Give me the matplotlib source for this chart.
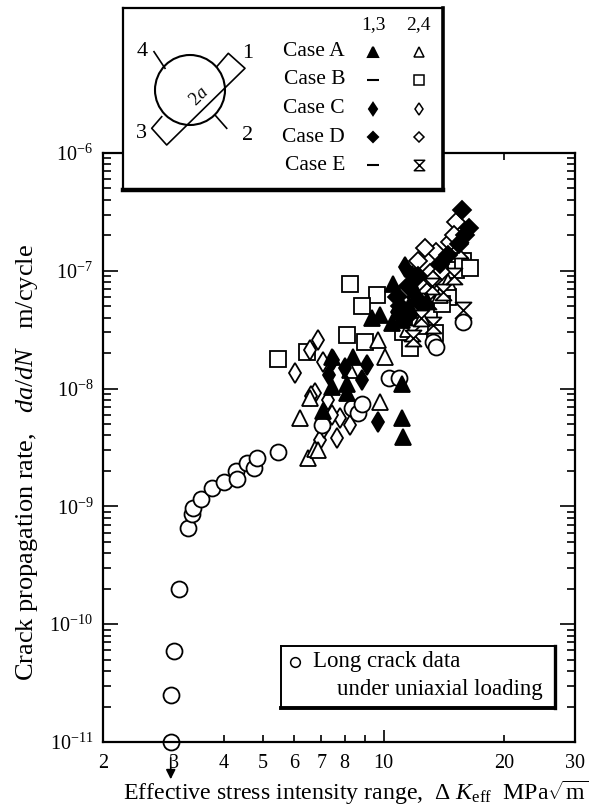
import matplotlib
matplotlib.use('Agg')
import matplotlib.pyplot as plt
from matplotlib.path import Path
from matplotlib.patches import Circle

plt.rcParams['font.family'] = ['Liberation Serif', 'DejaVu Serif']
plt.rcParams['mathtext.fontset'] = 'custom'
plt.rcParams['mathtext.rm'] = 'Liberation Serif'
plt.rcParams['mathtext.it'] = 'Liberation Serif:italic'

# Long crack data (open circles)
long_x = [2.95, 2.95, 3.0, 3.09, 3.25, 3.33, 3.36, 3.51, 3.73, 4.01, 4.28, 4.31, 4.56, 4.76,
          4.83, 5.45, 7.02, 8.34, 8.65, 8.83, 10.3, 10.9, 13.3, 13.5, 15.8]
long_y = [1.0e-11, 2.5e-11, 5.9e-11, 2.0e-10, 6.6e-10, 8.6e-10, 9.6e-10, 1.16e-9, 1.43e-9,
          1.62e-9, 2.0e-9, 1.7e-9, 2.35e-9, 2.1e-9, 2.6e-9, 2.9e-9, 4.9e-9, 6.8e-9, 6.2e-9,
          7.4e-9, 1.22e-8, 1.22e-8, 2.5e-8, 2.25e-8, 3.7e-8]

# Case A (triangles)
a13_x = [7.43, 8.41, 7.43, 8.10, 7.08, 8.10, 11.1, 11.2, 11.1, 9.35, 9.8, 10.55, 12.0, 10.5,
         11.1, 11.6, 12.8]
a13_y = [1.87e-8, 1.87e-8, 1.04e-8, 9.1e-9, 6.4e-9, 1.1e-8, 5.6e-9, 3.9e-9, 1.1e-8, 3.95e-8,
         4.2e-8, 7.8e-8, 6.9e-8, 3.6e-8, 3.8e-8, 5.0e-8, 5.5e-8]
a24_x = [6.19, 6.5, 6.75, 6.88, 9.8, 10.09, 9.7, 8.26, 13.8, 12.5, 14.5, 11.5, 6.55]
a24_y = [5.6e-9, 2.56e-9, 3.1e-9, 3.0e-9, 7.7e-9, 1.87e-8, 2.59e-8, 1.44e-8, 6.2e-8, 4.0e-8,
         8.0e-8, 3.2e-8, 8.3e-9]

# Case B (squares)
b24_x = [8.26, 9.62, 8.83, 8.10, 9.0, 5.47, 6.44, 11.64, 13.43, 14.5, 15.2, 15.8, 16.4, 13.0,
         12.3, 14.0, 11.2]
b24_y = [7.8e-8, 6.2e-8, 5.0e-8, 2.85e-8, 2.5e-8, 1.78e-8, 2.06e-8, 2.2e-8, 2.95e-8, 6.0e-8,
         1.02e-7, 1.2e-7, 1.05e-7, 4.3e-8, 3.4e-8, 5.2e-8, 3.0e-8]

# Case C (thin diamonds)
c13_x = [8.83, 9.7, 11.3, 7.5, 8.0, 9.1, 7.3, 10.8, 11.8]
c13_y = [1.18e-8, 5.2e-9, 1.07e-7, 1.75e-8, 1.5e-8, 1.6e-8, 1.3e-8, 4.5e-8, 9.0e-8]
c24_x = [6.88, 6.56, 6.01, 7.08, 6.75, 6.6, 7.28, 7.8, 8.26, 6.95, 7.64, 7.45, 7.1]
c24_y = [2.59e-8, 2.13e-8, 1.35e-8, 1.69e-8, 9.1e-9, 8.6e-9, 8.0e-9, 5.6e-9, 4.9e-9, 3.66e-9,
         3.8e-9, 6.0e-9, 4.6e-9]

# Case D (diamonds)
d13_x = [15.7, 16.3, 16.0, 15.4, 14.5, 13.8, 12.2, 10.8, 11.5, 11.0, 12.2, 11.6]
d13_y = [3.3e-7, 2.3e-7, 2.0e-7, 1.7e-7, 1.35e-7, 1.15e-7, 9.0e-8, 6.0e-8, 7.5e-8, 5.0e-8,
         5.5e-8, 4.2e-8]
d24_x = [15.2, 14.65, 13.55, 12.7, 12.2, 13.06, 11.97, 12.8, 15.0, 14.0, 11.5, 13.3]
d24_y = [2.6e-7, 1.77e-7, 1.45e-7, 1.55e-7, 1.2e-7, 9.5e-8, 8.9e-8, 6.65e-8, 2.0e-7, 1.0e-7,
         7.0e-8, 8.4e-8]

# Case E (hourglass)
e24_x = [15.8, 14.1, 12.9, 11.75, 11.86, 13.3, 15.0, 12.4, 15.5, 13.2]
e24_y = [4.65e-8, 6.65e-8, 5.5e-8, 2.95e-8, 2.67e-8, 3.5e-8, 9.0e-8, 4.0e-8, 1.5e-7, 7.5e-8]

x_major = [10]
x_minor = [2, 3, 4, 5, 6, 7, 8, 9, 20, 30]
x_minor_labels = ['2', '3', '4', '5', '6', '7', '8', '', '20', '30']
y_major = [1e-11, 1e-10, 1e-9, 1e-8, 1e-7, 1e-6]
y_labels = [r'$10^{-11}$', r'$10^{-10}$', r'$10^{-9}$', r'$10^{-8}$', r'$10^{-7}$', r'$10^{-6}$']

hourglass = Path([(-1, 1), (1, 1), (-1, -1), (1, -1), (-1, 1)],
                 [Path.MOVETO, Path.LINETO, Path.LINETO, Path.LINETO, Path.CLOSEPOLY])

W, H = 597, 807
fig = plt.figure(figsize=(W / 100, H / 100), dpi=100)
ax = fig.add_axes([103 / W, 1 - 742 / H, 472 / W, 589 / H])
ax.set_xscale('log')
ax.set_yscale('log')
ax.set_xlim(2, 30)
ax.set_ylim(1e-11, 1e-6)

ew = 1.3
common = dict(ls='none', mec='black', mew=ew, clip_on=False)
ax.plot(b24_x, b24_y, marker='s', ms=11.5, mfc='white', **common)
ax.plot(c24_x, c24_y, marker='d', ms=10.5, mfc='white', **common)
ax.plot(d24_x, d24_y, marker='D', ms=9, mfc='white', **common)
ax.plot(a24_x, a24_y, marker='^', ms=12, mfc='white', **common)
ax.plot(e24_x, e24_y, marker=hourglass, ms=11.5, mfc='white', **common)
ax.plot(long_x, long_y, marker='o', ms=11.5, mfc='white', **common)
ax.plot(a13_x, a13_y, marker='^', ms=12, mfc='black', **common)
ax.plot(c13_x, c13_y, marker='d', ms=10.5, mfc='black', **common)
ax.plot(d13_x, d13_y, marker='D', ms=9, mfc='black', **common)

ax.set_xticks(x_major, ['10'])
ax.set_xticks(x_minor, x_minor_labels, minor=True)
ax.set_yticks(y_major, y_labels)
ax.tick_params(which='both', direction='in', top=True, right=True, width=1.2,
               labelsize=14.5)
ax.tick_params(axis='y', which='major', length=11, pad=7)
ax.tick_params(axis='y', which='minor', length=6)
ax.tick_params(axis='x', which='major', length=9, pad=9)
ax.tick_params(axis='x', which='minor', length=5, pad=9)
for s in ax.spines.values():
    s.set_linewidth(1.6)

ax.set_xlabel(r'Effective stress intensity range,  $\mathit{Δ}\ K_{\mathrm{eff}}$  MPa$\sqrt{\mathrm{m}}$',
              fontsize=17.2, va='center')
ax.xaxis.set_label_coords(0.536, -0.087)
ax.set_ylabel(r'Crack propagation rate,   $da/dN$   m/cycle', fontsize=19, va='center')
ax.yaxis.set_label_coords(-0.161, 0.475)

ax.annotate('', xy=(2.95, -0.068), xycoords=('data', 'axes fraction'),
            xytext=(2.95, -0.022), textcoords=('data', 'axes fraction'),
            arrowprops=dict(arrowstyle='-|>', color='black', lw=1.2, mutation_scale=14),
            annotation_clip=False)

# top legend box with specimen sketch
lg = fig.add_axes([123 / W, 1 - 190 / H, 320 / W, 182 / H], zorder=5)
lg.set_xlim(123, 443)
lg.set_ylim(190, 8)
lg.set_xticks([])
lg.set_yticks([])
lg.spines['top'].set_linewidth(1.6)
lg.spines['left'].set_linewidth(1.6)
lg.spines['bottom'].set_linewidth(3.2)
lg.spines['right'].set_linewidth(2.6)

lg.add_patch(Circle((190, 90), 35, fill=False, lw=1.5, ec='black'))
sketch = [
    [(216.7, 66.7), (228.3, 53.3), (245, 68.3), (166.7, 145), (151.7, 128.3), (161.7, 116.7)],
    [(154, 51.7), (165, 68.3)],
    [(215, 115), (226.7, 128.3)],
]
for seg in sketch:
    lg.plot([p[0] for p in seg], [p[1] for p in seg], color='black', lw=1.2)
lg.text(199, 97, r'$2a$', rotation=45, fontsize=13, ha='center', va='center')
for t, px, py in [('4', 141.7, 51.7), ('1', 248, 53), ('3', 141.7, 133), ('2', 248, 135)]:
    lg.text(px, py, t, fontsize=16, ha='center', va='center')

lg.text(373, 25, '1,3', fontsize=14, ha='center', va='center')
lg.text(418, 25, '2,4', fontsize=14, ha='center', va='center')
cases = ['Case A', 'Case B', 'Case C', 'Case D', 'Case E']
rows = [52, 80, 108.5, 137, 165]
m13 = [('^', 'black', 6.5), ('_', 'black', 9), ('d', 'black', 6), ('D', 'black', 5.5), ('_', 'black', 9)]
m24 = [('^', 'white', 6.5), ('s', 'white', 7), ('d', 'white', 6), ('D', 'white', 5.5), (hourglass, 'white', 7.5)]
for name, ry, a, b in zip(cases, rows, m13, m24):
    lg.text(345, ry, name, fontsize=15.5, ha='right', va='center')
    lg.plot([373], [ry], marker=a[0], mfc=a[1], mec='black', ms=a[2], mew=1.5, ls='none')
    lg.plot([419], [ry], marker=b[0], mfc=b[1], mec='black', ms=b[2], mew=1.1, ls='none')

# bottom legend box
lb = fig.add_axes([281 / W, 1 - 708 / H, 274 / W, 62 / H], zorder=5)
lb.set_xlim(281, 555)
lb.set_ylim(708, 646)
lb.set_xticks([])
lb.set_yticks([])
lb.spines['top'].set_linewidth(1.4)
lb.spines['left'].set_linewidth(1.4)
lb.spines['bottom'].set_linewidth(2.8)
lb.spines['right'].set_linewidth(2.4)
lb.plot([295], [662], marker='o', ms=7, mfc='white', mec='black', mew=1.1, ls='none')
lb.text(313, 662, 'Long crack data', fontsize=16.5, ha='left', va='center')
lb.text(337, 690, 'under uniaxial loading', fontsize=16.5, ha='left', va='center')

fig.savefig('out.png', dpi=100)
